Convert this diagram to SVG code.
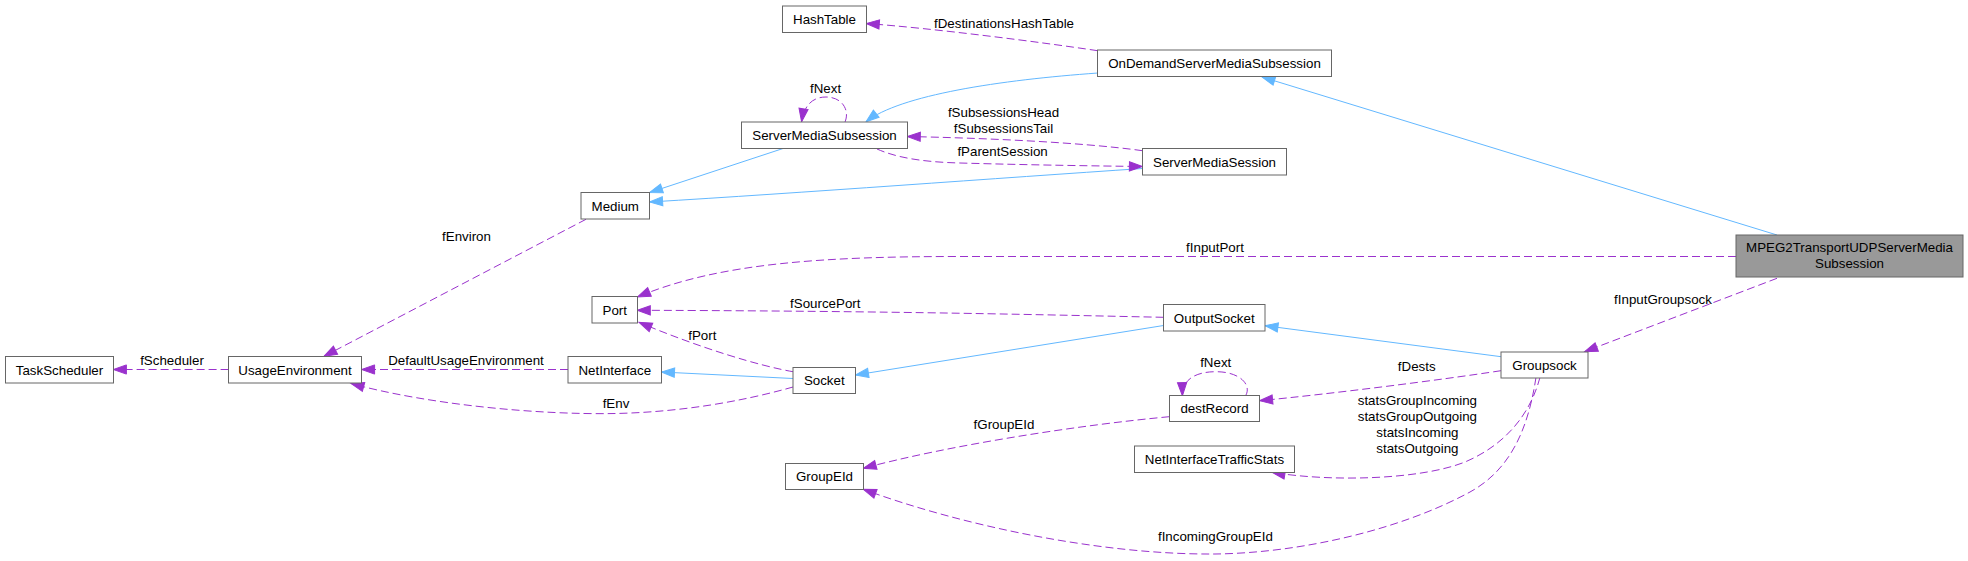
<svg xmlns="http://www.w3.org/2000/svg" width="1968" height="561" viewBox="0 0 1968 561">
<style>
.node rect{fill:#ffffff;stroke:#666666;stroke-width:1}
.node text,.lbl{font-family:"Liberation Sans",Arial,Helvetica,sans-serif;font-size:13.33px;fill:#000000;text-anchor:middle}
.inh{fill:none;stroke:#63b8ff;stroke-width:1;marker-end:url(#ab)}
.use{fill:none;stroke:#9a32cd;stroke-width:1;stroke-dasharray:8,4;marker-end:url(#ap)}
</style>
<defs>
<marker id="ap" markerUnits="userSpaceOnUse" markerWidth="14" markerHeight="10" refX="13" refY="4.6" orient="auto" overflow="visible"><path d="M0,0 L13,4.6 L0,9.2 Z" fill="#9a32cd" stroke="#9a32cd" stroke-width="1"/></marker>
<marker id="ab" markerUnits="userSpaceOnUse" markerWidth="14" markerHeight="10" refX="13" refY="4.6" orient="auto" overflow="visible"><path d="M0,0 L13,4.6 L0,9.2 Z" fill="#63b8ff" stroke="#63b8ff" stroke-width="1"/></marker>
</defs>
<rect width="1968" height="561" fill="#ffffff"/>
<g id="connectors">
<path class="inh" d="M1777,235 L1262,77"/>
<path class="inh" d="M1098,73 C1000,80 900,95 866,121.7"/>
<path class="inh" d="M783,148.5 L649.6,192.5"/>
<path class="inh" d="M1142.5,168.5 C1000,178 800,193 649.6,202"/>
<path class="inh" d="M793,378.5 L661.5,372"/>
<path class="inh" d="M1163.5,325.5 L855.5,375"/>
<path class="inh" d="M1501,356.7 L1265,325.7"/>
<path class="use" d="M1097.6,50.7 C1040,42 930,28 866.3,23.5"/>
<path class="use" d="M845,122 C850,110 842,97 826,97 C812,97 804,106 801.6,121.7"/>
<path class="use" d="M1142.4,150.7 C1080,142 980,138 907.3,136.5"/>
<path class="use" d="M877,149 C895,157 920,162 960,163 C1030,165 1100,166 1142.4,166.5"/>
<path class="use" d="M586,219.3 L324,356.3"/>
<path class="use" d="M1736,256.5 L960,256.5 C830,256.5 720,262 637.5,297"/>
<path class="use" d="M1163.5,317.3 C1050,315 900,311 637.3,310.3"/>
<path class="use" d="M793,371.7 C760,366 700,348 639,322.3"/>
<path class="use" d="M568,369.5 L361.6,369.5"/>
<path class="use" d="M228.6,369.5 L113.4,369.5"/>
<path class="use" d="M793,387 C740,402 680,412 616,413.5 C540,415 430,405 351,383.5"/>
<path class="use" d="M1777,278.3 L1584.6,351.7"/>
<path class="use" d="M1501,370.7 C1440,380 1330,394 1259.6,400.7"/>
<path class="use" d="M1245.6,395.7 C1252,385 1240,371.7 1216,371.7 C1195,371.7 1182,380 1182.4,395.7"/>
<path class="use" d="M1169.3,416.7 C1080,425 950,445 863.3,468.3"/>
<path class="use" d="M1540,377.3 C1530,415 1505,445 1465,462 C1420,480 1330,482 1272,472.3"/>
<path class="use" d="M1536,377.3 C1528,430 1510,470 1470,492 C1400,530 1300,553 1215,554 C1100,555 960,525 863.3,489.3"/>
<text class="lbl" x="1004" y="28">fDestinationsHashTable</text>
<text class="lbl" x="825.6" y="93">fNext</text>
<text class="lbl" x="1003.5" y="116.5">fSubsessionsHead</text>
<text class="lbl" x="1003.5" y="132.5">fSubsessionsTail</text>
<text class="lbl" x="1002.6" y="156">fParentSession</text>
<text class="lbl" x="466.5" y="241">fEnviron</text>
<text class="lbl" x="1215" y="252">fInputPort</text>
<text class="lbl" x="1663" y="303.5">fInputGroupsock</text>
<text class="lbl" x="825.3" y="308">fSourcePort</text>
<text class="lbl" x="702.3" y="340">fPort</text>
<text class="lbl" x="172" y="365">fScheduler</text>
<text class="lbl" x="466" y="364.5">DefaultUsageEnvironment</text>
<text class="lbl" x="1416.7" y="370.5">fDests</text>
<text class="lbl" x="1215.7" y="367">fNext</text>
<text class="lbl" x="616" y="407.5">fEnv</text>
<text class="lbl" x="1004" y="429">fGroupEId</text>
<text class="lbl" x="1417.4" y="405">statsGroupIncoming</text>
<text class="lbl" x="1417.4" y="421">statsGroupOutgoing</text>
<text class="lbl" x="1417.4" y="437">statsIncoming</text>
<text class="lbl" x="1417.4" y="453">statsOutgoing</text>
<text class="lbl" x="1215.4" y="541">fIncomingGroupEId</text>
</g>
<g id="MPEG2TransportUDPServerMediaSubsession" class="node"><rect x="1736" y="235" width="227" height="42" style="fill:#999999"/><text x="1849.5" y="252">MPEG2TransportUDPServerMedia</text><text x="1849.5" y="268">Subsession</text></g>
<g id="OnDemandServerMediaSubsession" class="node"><rect x="1097.5" y="50" width="234" height="26.5"/><text x="1214.5" y="68">OnDemandServerMediaSubsession</text></g>
<g id="HashTable" class="node"><rect x="782.5" y="6" width="84" height="26.5"/><text x="824.5" y="24">HashTable</text></g>
<g id="ServerMediaSubsession" class="node"><rect x="741.5" y="122" width="166" height="26.5"/><text x="824.5" y="140">ServerMediaSubsession</text></g>
<g id="ServerMediaSession" class="node"><rect x="1142.5" y="148.5" width="144" height="26.5"/><text x="1214.5" y="166.5">ServerMediaSession</text></g>
<g id="Medium" class="node"><rect x="581" y="192.5" width="68.5" height="26.5"/><text x="615.25" y="210.5">Medium</text></g>
<g id="Port" class="node"><rect x="592" y="296.5" width="45.5" height="26.5"/><text x="614.75" y="314.5">Port</text></g>
<g id="TaskScheduler" class="node"><rect x="5.5" y="356.5" width="108" height="26.5"/><text x="59.5" y="374.5">TaskScheduler</text></g>
<g id="UsageEnvironment" class="node"><rect x="228.5" y="356.5" width="133" height="26.5"/><text x="295" y="374.5">UsageEnvironment</text></g>
<g id="NetInterface" class="node"><rect x="568" y="356.5" width="93.5" height="26.5"/><text x="614.75" y="374.5">NetInterface</text></g>
<g id="Socket" class="node"><rect x="793" y="367.5" width="62.5" height="26"/><text x="824.25" y="385">Socket</text></g>
<g id="OutputSocket" class="node"><rect x="1163.5" y="304.5" width="101.5" height="26.5"/><text x="1214.25" y="322.5">OutputSocket</text></g>
<g id="Groupsock" class="node"><rect x="1501" y="352" width="87" height="26"/><text x="1544.5" y="369.5">Groupsock</text></g>
<g id="destRecord" class="node"><rect x="1169.5" y="395.5" width="90" height="26"/><text x="1214.5" y="413">destRecord</text></g>
<g id="NetInterfaceTrafficStats" class="node"><rect x="1134.5" y="446" width="160" height="26.5"/><text x="1214.5" y="464">NetInterfaceTrafficStats</text></g>
<g id="GroupEId" class="node"><rect x="785.5" y="463.5" width="78" height="26"/><text x="824.5" y="481">GroupEId</text></g>
</svg>
